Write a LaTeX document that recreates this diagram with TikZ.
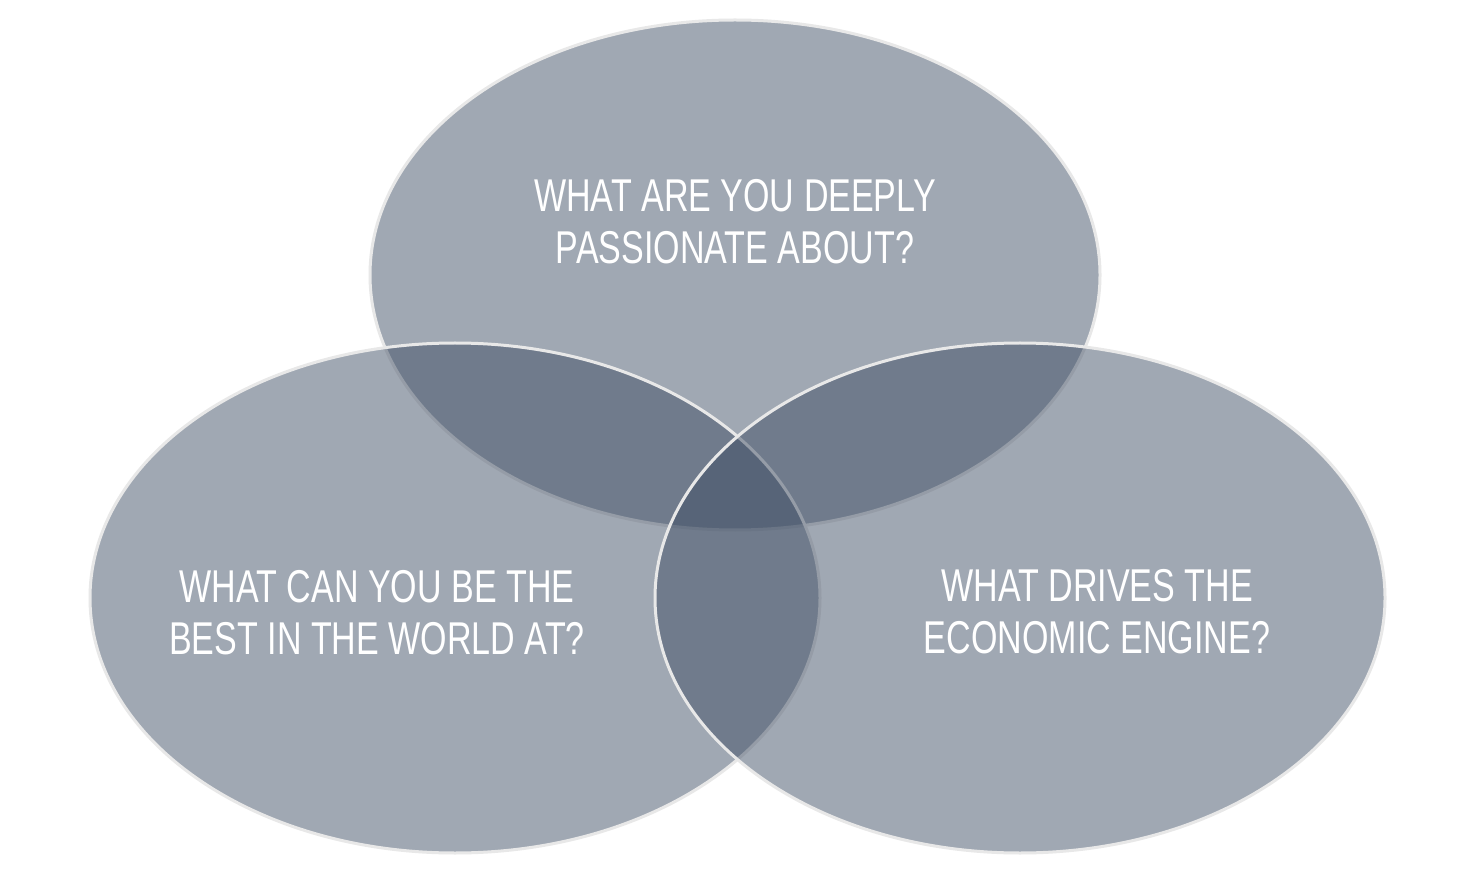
\documentclass[tikz,border=0pt]{standalone}
\usepackage{fontspec}
\newfontfamily\vennfont[FakeStretch=0.74]{Liberation Sans}
\definecolor{vennfill}{RGB}{63,78,100}
\definecolor{vennline}{RGB}{232,232,232}
\tikzset{
  venn/.style={ellipse, draw=vennline, line width=1.5pt, fill=vennfill, fill opacity=0.49, draw opacity=1},
  question/.style={text=white, align=center, font=\vennfont\fontsize{23}{26}\selectfont}
}
\usetikzlibrary{shapes.geometric}
\begin{document}
\begin{tikzpicture}[x=0.5pt,y=-0.5pt]
\useasboundingbox (0,0) rectangle (1472,871);
\path[fill=white] (0,0) rectangle (1472,871);
\draw[venn] (735,275) ellipse [x radius=365, y radius=255];
\draw[venn] (455,598) ellipse [x radius=365, y radius=255];
\draw[venn] (1020,598) ellipse [x radius=365, y radius=255];
\coordinate (topc) at (735,275);
\node[question] (qtop) at (735,222) {WHAT ARE YOU DEEPLY\\PASSIONATE ABOUT?};
\node[question] (qleft) at (377,613) {WHAT CAN YOU BE THE\\BEST IN THE WORLD AT?};
\node[question] (qright) at (1097,612) {WHAT DRIVES THE\\ECONOMIC ENGINE?};
\end{tikzpicture}
\end{document}
